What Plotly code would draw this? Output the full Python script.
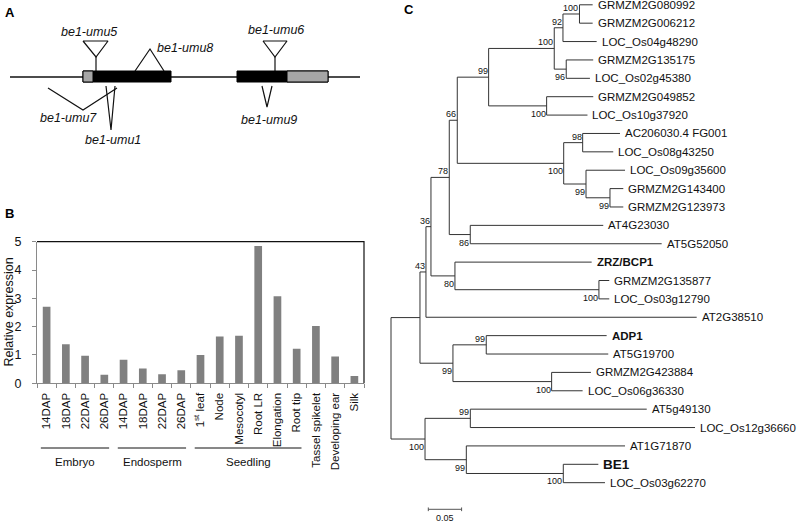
import plotly.graph_objects as go

W, H = 798, 524
FONT = "Liberation Sans, Arial, sans-serif"

# ---------------- Panel B data ----------------
tissue_labels = ["14DAP", "18DAP", "22DAP", "26DAP",
                 "14DAP", "18DAP", "22DAP", "26DAP",
                 "1<sup>st</sup> leaf", "Node", "Mesocotyl", "Root LR", "Elongation", "Root tip",
                 "Tassel spikelet", "Developing ear", "Silk"]
expression = [2.70, 1.38, 0.97, 0.30,
              0.83, 0.52, 0.32, 0.46,
              1.00, 1.65, 1.68, 4.85, 3.07, 1.22,
              2.02, 0.95, 0.26]
group_names = ["Embryo", "Endosperm", "Seedling"]
group_first = [0, 4, 8]
group_last = [3, 7, 13]
y_ticks = [0, 1, 2, 3, 4, 5]

# ---------------- Panel A data (position along the gene, arbitrary units) ----------------
gene_span = [0, 3500]
exon_start = [730, 2270]
exon_end = [1610, 3180]
utr_start = [730, 2770]
utr_end = [830, 3180]
mut_names = ["be1-umu5", "be1-umu6", "be1-umu8", "be1-umu7", "be1-umu1", "be1-umu9"]
mut_kind = ["ins", "ins", "up", "down", "down", "down"]
mut_left = [730, 2530, 1250, 380, 960, 2520]
mut_apex = [860, 2650, 1400, 730, 1010, 2570]
mut_right = [980, 2770, 1540, 1070, 1050, 2620]

# ---------------- Panel C data (tree) ----------------
leaf_names = ["GRMZM2G080992", "GRMZM2G006212", "LOC_Os04g48290", "GRMZM2G135175", "LOC_Os02g45380",
              "GRMZM2G049852", "LOC_Os10g37920", "AC206030.4 FG001", "LOC_Os08g43250", "LOC_Os09g35600",
              "GRMZM2G143400", "GRMZM2G123973", "AT4G23030", "AT5G52050", "ZRZ/BCP1",
              "GRMZM2G135877", "LOC_Os03g12790", "AT2G38510", "ADP1", "AT5G19700",
              "GRMZM2G423884", "LOC_Os06g36330", "AT5g49130", "LOC_Os12g36660", "AT1G71870",
              "BE1", "LOC_Os03g62270"]
leaf_lengths = [0.0198, 0.0198, 0.0506, 0.0405, 0.0356,
                0.0700, 0.0613, 0.0560, 0.0459, 0.0586,
                0.0200, 0.0200, 0.1997, 0.2874, 0.2053,
                0.0155, 0.0155, 0.4065, 0.1808, 0.1832,
                0.0590, 0.0465, 0.2649, 0.3374, 0.2383,
                0.0526, 0.0626]
leaf_bold = ["ZRZ/BCP1", "ADP1", "BE1"]
node_names = ["a", "b", "c", "d", "e", "f", "g", "h", "i", "j", "k", "l", "m",
              "n", "o", "p", "q", "r", "s", "t", "u", "v", "w", "x", "y", "root"]
node_children = [[0, 1], ["a", 2], [3, 4], ["b", "c"], [5, 6], ["d", "e"], [7, 8], [10, 11],
                 [9, "h"], ["g", "i"], ["f", "j"], [12, 13], ["k", "l"], [15, 16], [14, "n"],
                 ["m", "o"], ["p", 17], [18, 19], [20, 21], ["r", "s"], ["q", "t"], [22, 23],
                 [25, 26], [24, "w"], ["v", "x"], ["u", "y"]]
node_lengths = [0.0248, 0.0131, 0.0180, 0.0985, 0.0871, 0.0471, 0.0285, 0.0360, 0.0335, 0.1598,
                0.0120, 0.0315, 0.0275, 0.2162, 0.0360, 0.0075, 0.0090, 0.0500, 0.1482, 0.0495,
                0.0435, 0.0680, 0.1456, 0.0620, 0.0511, 0.0]
node_support = ["100", "92", "96", "100", "100", "99", "98", "99", "99", "100", "66", "86", "78",
                "100", "80", "36", "43", "99", "100", "99", "", "99", "100", "99", "100", ""]
scale_length = 0.05

# label side for bootstrap values (style)
node_label_side = ["up", "up", "down", "up", "down", "up", "up", "down", "down", "down", "up", "down", "up",
                   "down", "down", "up", "up", "up", "down", "down", "", "up", "down", "down", "down", ""]

fig = go.Figure()

# ================= Panel B =================
fig.add_trace(go.Bar(x=list(range(len(expression))), y=expression, width=0.4,
                     marker=dict(color="#808080", line=dict(width=0)),
                     xaxis="x", yaxis="y", hoverinfo="skip"))

bx0, bx1 = 37 / W, 364 / W
by0, by1 = (H - 383.3) / H, (H - 241.7) / H
n = len(expression)
fig.update_layout(
    xaxis=dict(domain=[bx0, bx1], range=[-0.5, n - 0.5], anchor="y", automargin=False,
               tickmode="array", tickvals=list(range(n)), ticktext=tissue_labels,
               tickangle=-90, ticks="", showline=True, linecolor="#8a8a8a", linewidth=1,
               tickfont=dict(size=11.5, color="#111", family=FONT), showgrid=False, zeroline=False,
               ticklabelstandoff=4,
               minor=dict(tickmode="array", tickvals=[i - 0.5 for i in range(n + 1)],
                          ticks="outside", ticklen=4, tickcolor="#8a8a8a", showgrid=False)),
    yaxis=dict(domain=[by0, by1], range=[0, 5], anchor="x", tickmode="array", tickvals=y_ticks,
               automargin=False,
               ticks="outside", ticklen=4, tickcolor="#8a8a8a", showline=True, linecolor="#8a8a8a",
               linewidth=1, showgrid=False, zeroline=False,
               tickfont=dict(size=12.5, color="#111", family=FONT), ticklabelstandoff=8),
)

shapes = []
annotations = []
# top & right border of panel B
shapes.append(dict(type="path", xref="x domain", yref="y domain", path="M 0 1 L 1 1 L 1 0",
                   line=dict(color="#111", width=1.2)))
# group lines and labels
for g, f, l in zip(group_names, group_first, group_last):
    shapes.append(dict(type="line", xref="x", yref="paper", x0=f - 0.3, x1=l + 0.25,
                       y0=(H - 448) / H, y1=(H - 448) / H, line=dict(color="#111", width=1)))
    annotations.append(dict(xref="x", yref="paper", x=(f + l) / 2, y=(H - 462) / H, text=g,
                            showarrow=False, font=dict(size=11.5, color="#111"),
                            xanchor="center", yanchor="middle"))
annotations.append(dict(xref="paper", yref="paper", x=8 / W, y=(H - 312.5) / H,
                        text="Relative expression", textangle=-90, showarrow=False,
                        font=dict(size=12.5, color="#111"), xanchor="center", yanchor="middle"))

# ================= Panel A =================
fig.update_layout(
    xaxis2=dict(domain=[0, 370 / W], range=[-100, 3600], anchor="y2", visible=False, automargin=False),
    yaxis2=dict(domain=[1 - 160 / H, 1], range=[160, 0], anchor="x2", visible=False, automargin=False),
)
GENE_Y, EX_TOP, EX_BOT = 77, 71, 82
shapes.append(dict(type="line", xref="x2", yref="y2", x0=gene_span[0] - 0, x1=gene_span[1],
                   y0=GENE_Y, y1=GENE_Y, line=dict(color="#111", width=1.3)))
for s, e in zip(exon_start, exon_end):
    shapes.append(dict(type="rect", xref="x2", yref="y2", x0=s, x1=e, y0=EX_TOP, y1=EX_BOT,
                       fillcolor="#000", line=dict(color="#000", width=1)))
for s, e in zip(utr_start, utr_end):
    shapes.append(dict(type="rect", xref="x2", yref="y2", x0=s, x1=e, y0=EX_TOP, y1=EX_BOT,
                       fillcolor="#a6a6a6", line=dict(color="#000", width=1)))

down_depth = {"be1-umu7": (88, 110), "be1-umu1": (86, 130), "be1-umu9": (86, 107)}
label_pos = {"be1-umu5": (790, 32, "center"), "be1-umu6": (2655, 30, "center"),
             "be1-umu8": (1450, 47.5, "left"), "be1-umu7": (583, 118, "center"),
             "be1-umu1": (1025, 140, "center"), "be1-umu9": (2588, 120, "center")}
for name, kind, l, a, r in zip(mut_names, mut_kind, mut_left, mut_apex, mut_right):
    if kind == "ins":
        fig.add_trace(go.Scatter(x=[l, r, a, l], y=[41, 41, 57, 41], mode="lines", fill="toself",
                                 fillcolor="#fff", line=dict(color="#111", width=1.2),
                                 xaxis="x2", yaxis="y2", hoverinfo="skip"))
        fig.add_trace(go.Scatter(x=[a, a], y=[57, EX_TOP], mode="lines",
                                 line=dict(color="#111", width=1.2), xaxis="x2", yaxis="y2",
                                 hoverinfo="skip"))
    elif kind == "up":
        fig.add_trace(go.Scatter(x=[l, a, r], y=[EX_TOP, 49, EX_TOP], mode="lines",
                                 line=dict(color="#111", width=1.2), xaxis="x2", yaxis="y2",
                                 hoverinfo="skip"))
    else:
        t, b = down_depth[name]
        fig.add_trace(go.Scatter(x=[l, a, r], y=[t, b, t], mode="lines",
                                 line=dict(color="#111", width=1.2), xaxis="x2", yaxis="y2",
                                 hoverinfo="skip"))
    lx, ly, anc = label_pos[name]
    annotations.append(dict(xref="x2", yref="y2", x=lx, y=ly, text="<i>%s</i>" % name,
                            showarrow=False, xanchor=anc, yanchor="middle",
                            font=dict(size=12.5, color="#111")))

# ================= Panel C =================
PX_PER_UNIT = 666.0
ROOT_PX = 391.0
LEAF0_PX, LEAF_STEP = 4.8, 18.38
fig.update_layout(
    xaxis3=dict(domain=[380 / W, 1], range=[-11 / PX_PER_UNIT, (W - ROOT_PX) / PX_PER_UNIT],
                anchor="y3", visible=False, automargin=False),
    yaxis3=dict(domain=[0, 1], range=[(H - LEAF0_PX) / LEAF_STEP, -LEAF0_PX / LEAF_STEP],
                anchor="x3", visible=False, automargin=False),
)

children = dict(zip(node_names, node_children))
length = {i: v for i, v in enumerate(leaf_lengths)}
length.update(dict(zip(node_names, node_lengths)))
xpos, ypos = {}, {}


def walk(nd, x0):
    x = x0 + length[nd]
    xpos[nd] = x
    if isinstance(nd, int):
        ypos[nd] = nd
    else:
        for c in children[nd]:
            walk(c, x)
        ys = [ypos[c] for c in children[nd]]
        ypos[nd] = (min(ys) + max(ys)) / 2


walk("root", 0.0)

lx, ly = [], []
for nd in node_names:
    ys = [ypos[c] for c in children[nd]]
    lx += [xpos[nd], xpos[nd], None]
    ly += [min(ys), max(ys), None]
    for c in children[nd]:
        lx += [xpos[nd], xpos[c], None]
        ly += [ypos[c], ypos[c], None]
fig.add_trace(go.Scatter(x=lx, y=ly, mode="lines", line=dict(color="#333", width=1),
                         xaxis="x3", yaxis="y3", hoverinfo="skip"))

for i, name in enumerate(leaf_names):
    txt = name
    size = 11.5
    if name in leaf_bold:
        txt = "<b>%s</b>" % name
        if name == "BE1":
            size = 13.5
    annotations.append(dict(xref="x3", yref="y3", x=xpos[i], y=ypos[i], text=txt, showarrow=False,
                            xanchor="left", yanchor="middle", xshift=3,
                            font=dict(size=size, color="#111")))

for nd, sup, side in zip(node_names, node_support, node_label_side):
    if not sup:
        continue
    annotations.append(dict(xref="x3", yref="y3", x=xpos[nd], y=ypos[nd], text=sup, showarrow=False,
                            xanchor="right", yanchor="middle", xshift=1,
                            yshift=6 if side == "up" else -8,
                            font=dict(size=9, color="#111")))

# scale bar
sb_x0, sb_y = (428.3 - ROOT_PX) / PX_PER_UNIT, (509.3 - LEAF0_PX) / LEAF_STEP
fig.add_trace(go.Scatter(x=[sb_x0, sb_x0 + scale_length, None, sb_x0, sb_x0, None,
                            sb_x0 + scale_length, sb_x0 + scale_length],
                         y=[sb_y, sb_y, None, sb_y - 0.1, sb_y + 0.1, None, sb_y - 0.1, sb_y + 0.1],
                         mode="lines", line=dict(color="#555", width=1), xaxis="x3", yaxis="y3",
                         hoverinfo="skip"))
annotations.append(dict(xref="x3", yref="y3", x=sb_x0 + scale_length / 2, y=sb_y, text=str(scale_length),
                        showarrow=False, xanchor="center", yanchor="top", yshift=-2,
                        font=dict(size=9, color="#111")))

# panel letters
for letter, px, py in [("A", 3, 12.5), ("B", 3, 213), ("C", 402, 10)]:
    annotations.append(dict(xref="paper", yref="paper", x=px / W, y=(H - py) / H,
                            text="<b>%s</b>" % letter, showarrow=False, xanchor="left",
                            yanchor="middle", font=dict(size=13, color="#000")))

fig.update_layout(width=W, height=H, margin=dict(l=0, r=0, t=0, b=0, pad=0), autosize=False,
                  paper_bgcolor="#fff", plot_bgcolor="rgba(0,0,0,0)", showlegend=False,
                  font=dict(family=FONT, color="#111"), shapes=shapes, annotations=annotations)

fig.write_html("out.html", config={"displayModeBar": False},
               post_script="document.body.style.margin='0';document.body.style.overflow='hidden';")
